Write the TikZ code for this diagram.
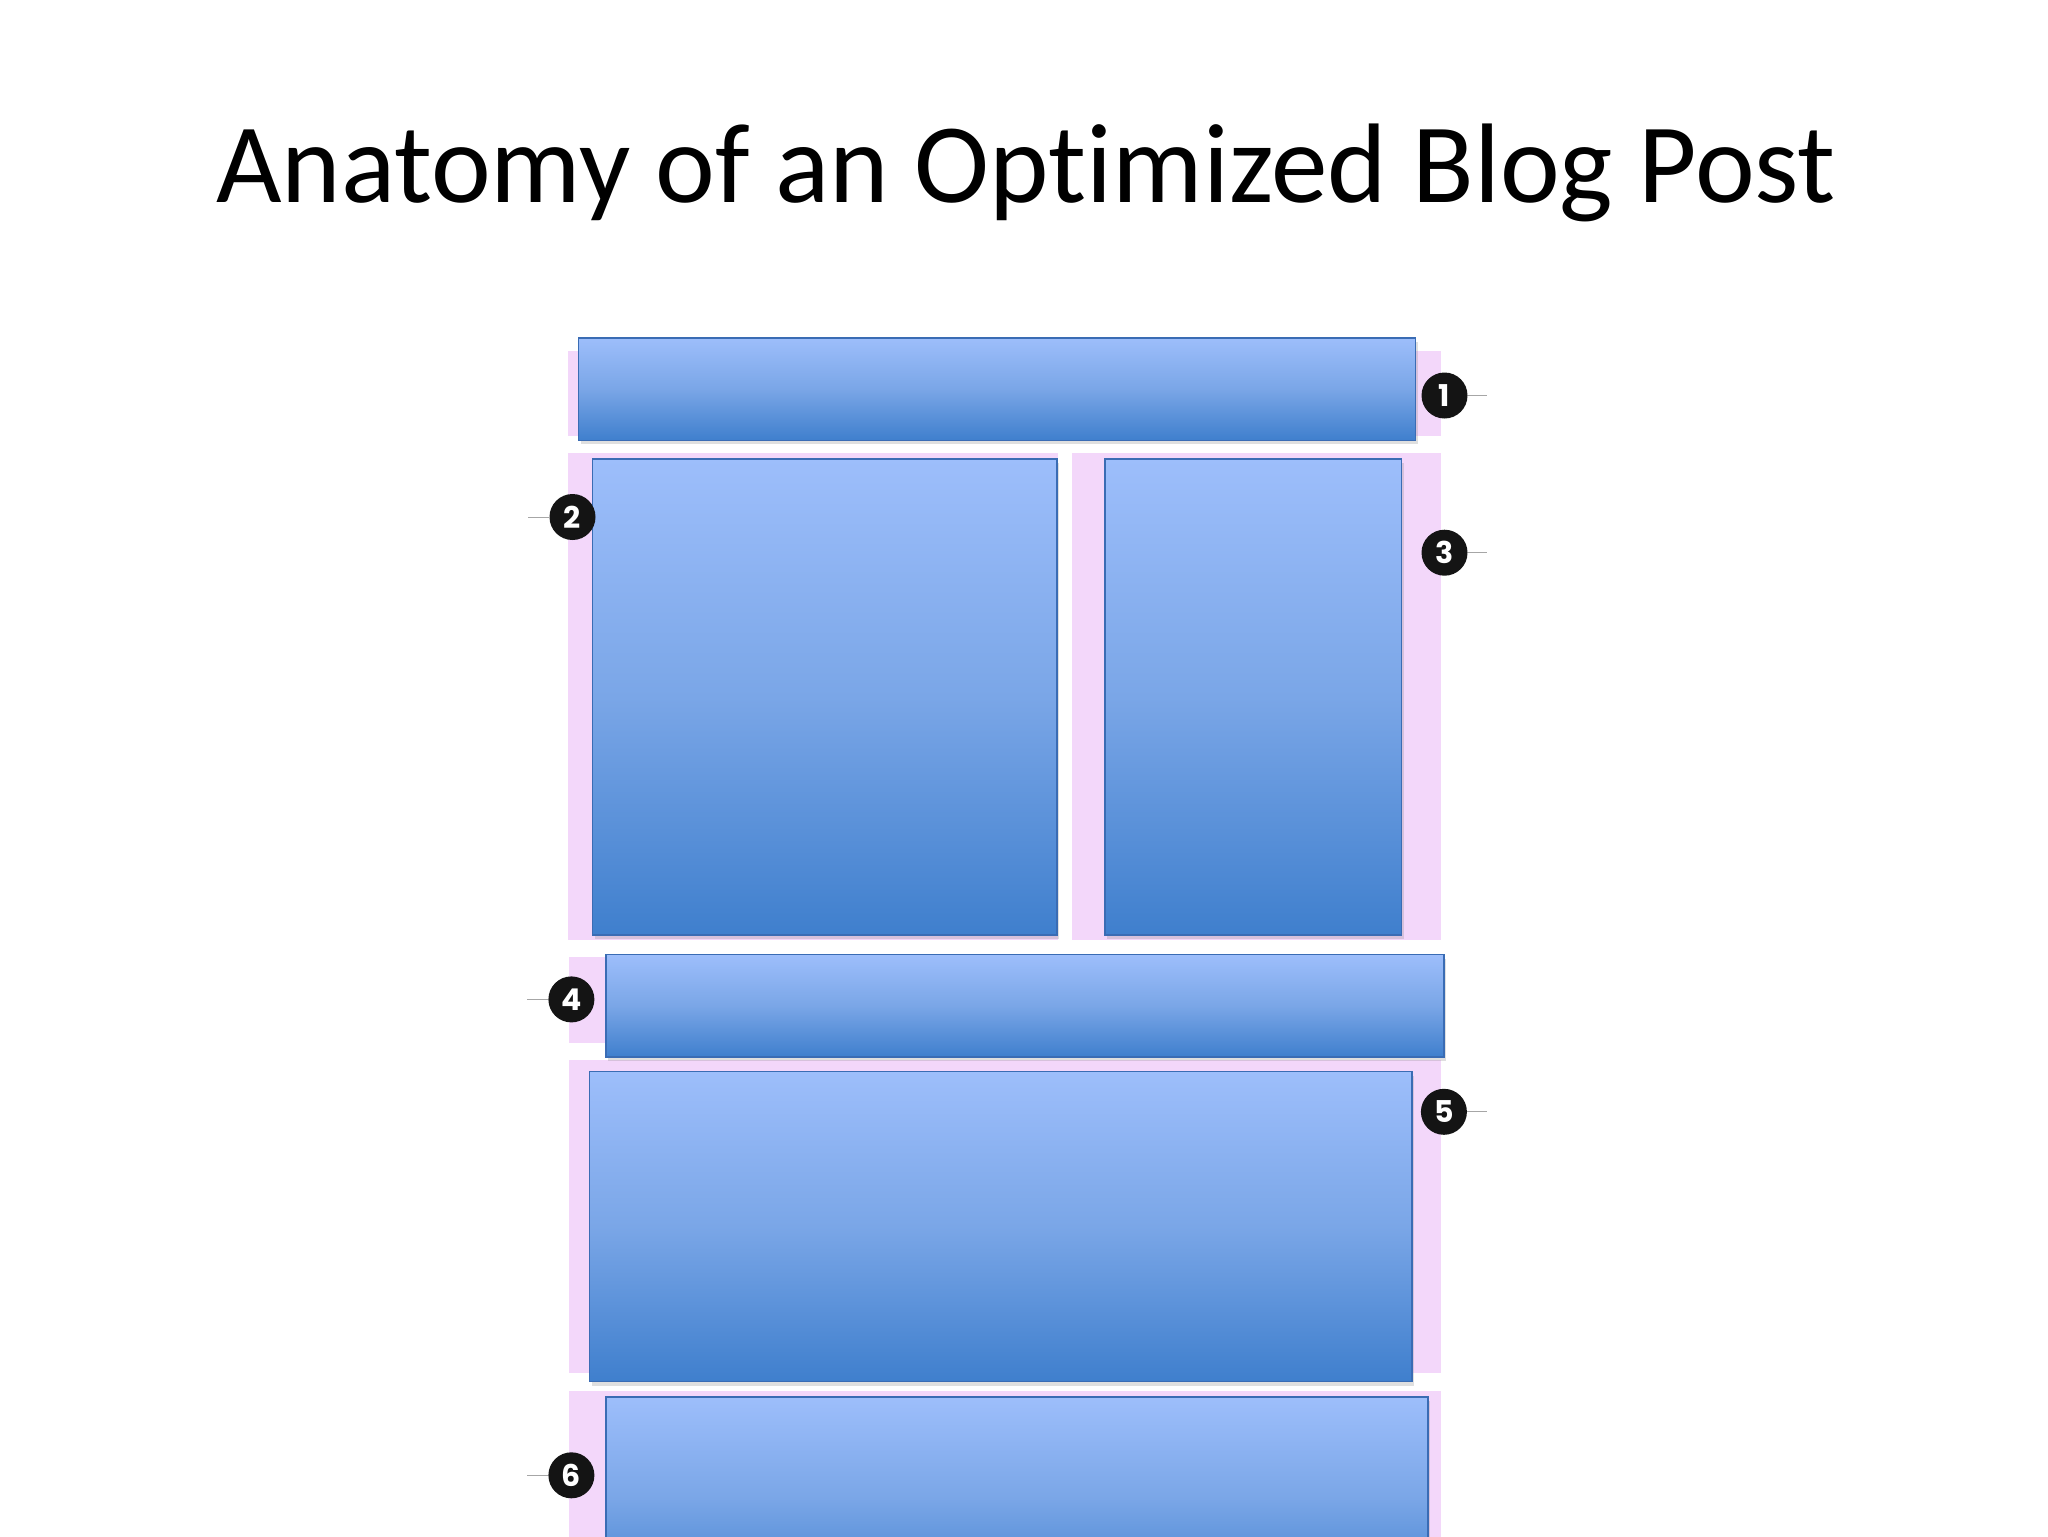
\documentclass[tikz,border=0pt]{standalone}
\usepackage{fontspec}
\setmainfont{Carlito}[Ligatures={NoCommon}]
\newfontfamily\numfont{Poppins}
\usetikzlibrary{fit,shadows}
\definecolor{pinkbg}{RGB}{243,215,250}
\definecolor{bTop}{RGB}{157,190,251}
\definecolor{bMid}{RGB}{122,166,231}
\definecolor{bBot}{RGB}{63,127,205}
\definecolor{bEdge}{RGB}{58,108,180}
\tikzset{
  pinkpanel/.style={fill=pinkbg, draw=none, inner sep=0pt},
  bluebox/.style={draw=bEdge, line width=0.9pt, inner sep=0pt,
    top color=bTop, bottom color=bBot, middle color=bMid,
    drop shadow={shadow xshift=1pt, shadow yshift=-2pt, opacity=0.25}},
  marker/.style={circle, fill=black!92, inner sep=0pt, minimum size=23pt,
    text=white, font=\numfont\bfseries\fontsize{15}{15}\selectfont},
  leader/.style={draw=black!35, line width=0.5pt},
}
\begin{document}
\begin{tikzpicture}[x=0.5pt,y=-0.5pt]
\useasboundingbox (0,0) rectangle (2048,1536);
\clip (0,0) rectangle (2048,1536);
\fill[white] (0,0) rectangle (2048,1536);

\node[anchor=base, inner sep=0pt, font=\fontsize{56.6}{68}\selectfont] (title) at (1026,202.4) {Anatomy of an Optimized Blog Post};

% pink panels
\node[pinkpanel, fit={(567.6,350.6) (1441.4,436.3)}] (p1) {};
\node[pinkpanel, fit={(567.6,453) (1058,939.6)}] (p2) {};
\node[pinkpanel, fit={(1071.5,453) (1441.4,939.6)}] (p3) {};
\node[pinkpanel, fit={(568.9,956.8) (1441,1042.8)}] (p4) {};
\node[pinkpanel, fit={(568.9,1060.2) (1440.7,1372.6)}] (p5) {};
\node[pinkpanel, fit={(568.9,1390.9) (1440.7,1560)}] (p6) {};

% blue boxes
\node[bluebox, fit={(578.5,337.6) (1415.5,440.4)}] (b1) {};
\node[bluebox, fit={(592.5,459) (1057,935)}] (b2) {};
\node[bluebox, fit={(1105,459) (1401.5,935)}] (b3) {};
\node[bluebox, fit={(606,954.5) (1444,1057)}] (b4) {};
\node[bluebox, fit={(589.5,1071.5) (1412,1381.5)}] (b5) {};
\node[bluebox, fit={(606,1397) (1428,1600)}] (b6) {};

% leaders and markers
\coordinate (l1) at (1487,395.5);
\coordinate (l2) at (528,517);
\coordinate (l3) at (1487,552.7);
\coordinate (l4) at (527,999.4);
\coordinate (l5) at (1487,1111.8);
\coordinate (l6) at (527,1475.3);

\node[marker] (m1) at (1444.5,395.5) {1};
\node[marker] (m2) at (572.5,517) {2};
\node[marker] (m3) at (1444.5,552.7) {3};
\node[marker] (m4) at (571.4,999.4) {4};
\node[marker] (m5) at (1443.9,1111.8) {5};
\node[marker] (m6) at (571.4,1475.3) {6};

\draw[leader] (m1) -- (l1);
\draw[leader] (m2) -- (l2);
\draw[leader] (m3) -- (l3);
\draw[leader] (m4) -- (l4);
\draw[leader] (m5) -- (l5);
\draw[leader] (m6) -- (l6);
\end{tikzpicture}
\end{document}
